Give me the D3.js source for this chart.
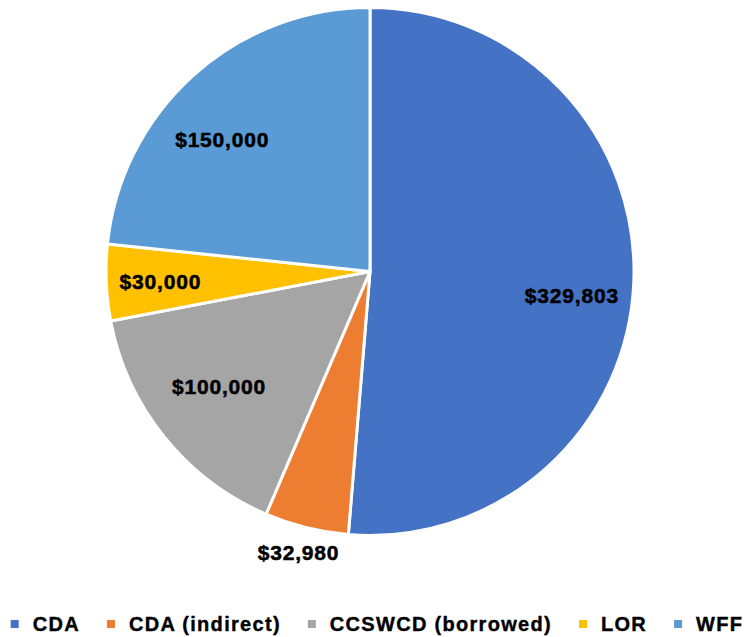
<!DOCTYPE html>
<html>
<head>
<meta charset="utf-8">
<script src="https://cdn.jsdelivr.net/npm/d3@7"></script>
<style>
  html, body { margin: 0; padding: 0; background: #ffffff; }
  svg { display: block; }
  text { font-family: "Liberation Sans", Arial, sans-serif; font-weight: bold; fill: #000; }
</style>
</head>
<body>
<svg id="chart" width="754" height="637"></svg>
<script>
// ---- data ----
const categories = ["CDA", "CDA (indirect)", "CCSWCD (borrowed)", "LOR", "WFF"];
const values = [329803, 32980, 100000, 30000, 150000];
const labels = ["$329,803", "$32,980", "$100,000", "$30,000", "$150,000"];
const colors = ["#4472C4", "#ED7D31", "#A5A5A5", "#FFC000", "#5B9BD5"];

// ---- layout ----
const W = 754, H = 637;
const cx = 370, cy = 271.5, R = 264;
// label placement (best-fit style): radius factor and angular nudge (degrees) per slice
const labelPlace = [
  { k: 0.77, da: 4.4 },
  { k: 1.10, da: 0.3 },
  { k: 0.72, da: 1.4 },
  { k: 0.795, da: -0.3 },
  { k: 0.75, da: -6.3 }
];

const svg = d3.select("#chart");
const g = svg.append("g").attr("transform", `translate(${cx},${cy})`);

const data = categories.map((c, i) => ({ cat: c, value: values[i], label: labels[i], color: colors[i], idx: i }));

const pie = d3.pie().value(d => d.value).sort(null).startAngle(0).endAngle(2 * Math.PI);
const arc = d3.arc().innerRadius(0).outerRadius(R);
const arcs = pie(data);

g.selectAll("path.slice")
  .data(arcs)
  .join("path")
  .attr("class", "slice")
  .attr("d", arc)
  .attr("fill", d => d.data.color)
  .attr("stroke", "#ffffff")
  .attr("stroke-width", 3)
  .attr("stroke-linejoin", "round");

function labelPos(d) {
  const p = labelPlace[d.data.idx];
  const a = (d.startAngle + d.endAngle) / 2 + p.da * Math.PI / 180;
  const r = R * p.k;
  return [Math.sin(a) * r, -Math.cos(a) * r];
}

g.selectAll("text.lbl")
  .data(arcs)
  .join("text")
  .attr("class", "lbl")
  .attr("transform", d => `translate(${labelPos(d)})`)
  .attr("text-anchor", "middle")
  .attr("dominant-baseline", "central")
  .attr("font-size", 21)
  .attr("letter-spacing", 0.8)
  .attr("stroke", "#000")
  .attr("stroke-width", 0.5)
  .text(d => d.data.label);

// ---- legend ----
const legY = 624;
const legend = svg.append("g");
const items = legend.selectAll("g.item").data(data).join("g").attr("class", "item");
items.append("rect")
  .attr("width", 8).attr("height", 8)
  .attr("y", legY - 4)
  .attr("fill", d => d.color);
items.append("text")
  .attr("x", 22)
  .attr("y", legY)
  .attr("dominant-baseline", "central")
  .attr("font-size", 20)
  .attr("letter-spacing", 1.3)
  .attr("stroke", "#000")
  .attr("stroke-width", 0.4)
  .text(d => d.cat);

// lay out sequentially, centered
const gap = 27;
let widths = [];
items.each(function() { widths.push(this.getBBox().width); });
const total = d3.sum(widths) + gap * (widths.length - 1);
let x = (W - total) / 2;
items.each(function(d, i) {
  d3.select(this).attr("transform", `translate(${x},0)`);
  x += widths[i] + gap;
});
</script>
</body>
</html>
